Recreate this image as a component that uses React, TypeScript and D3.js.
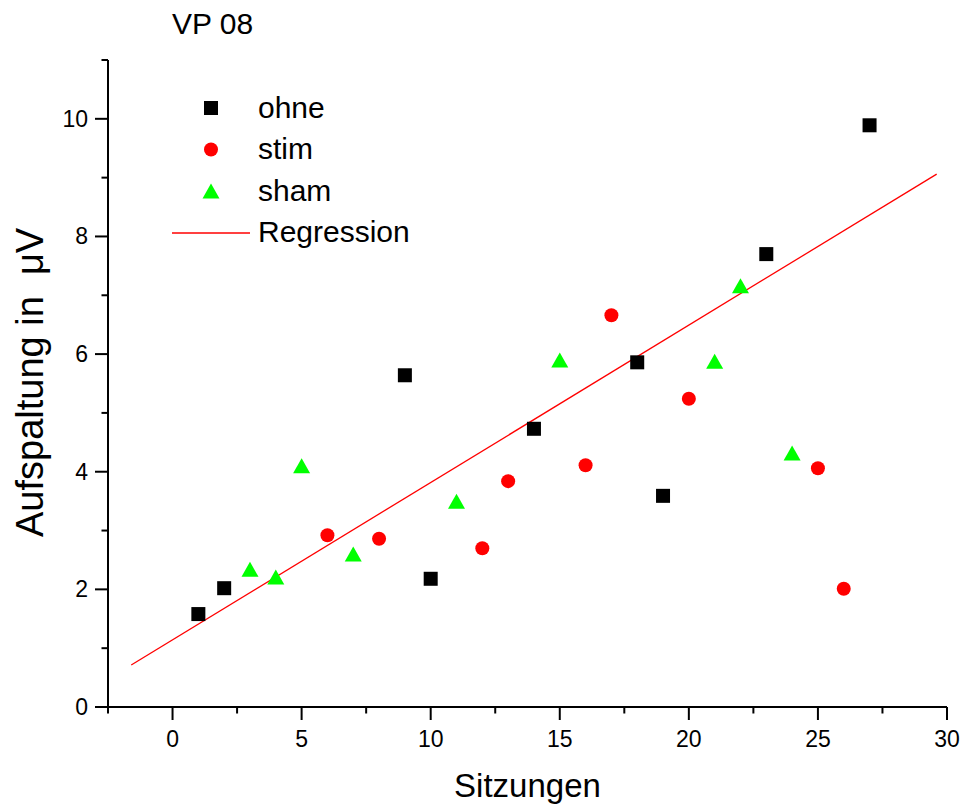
import React from "react";
import * as d3 from "d3";

const title = "VP 08";
const xLabel = "Sitzungen";
const yLabel = "Aufspaltung in\u00a0\u00a0μV";

const ohneX = [1, 2, 9, 10, 14, 18, 19, 23, 27];
const ohneY = [1.58, 2.02, 5.64, 2.18, 4.73, 5.86, 3.59, 7.7, 9.89];

const stimX = [6, 8, 12, 13, 16, 17, 20, 25, 26];
const stimY = [2.92, 2.86, 2.7, 3.84, 4.11, 6.66, 5.24, 4.06, 2.01];

const shamX = [3, 4, 5, 7, 11, 15, 21, 22, 24];
const shamY = [2.34, 2.21, 4.1, 2.6, 3.5, 5.9, 5.88, 7.16, 4.32];

const regIntercept = 1.142;
const regSlope = 0.2675;
const regRange = [-1.6, 29.6];

const xMajorTicks = [0, 5, 10, 15, 20, 25, 30];
const xMinorTicks = [-2.5, 2.5, 7.5, 12.5, 17.5, 22.5, 27.5];
const yMajorTicks = [0, 2, 4, 6, 8, 10];
const yMinorTicks = [1, 3, 5, 7, 9, 11];

const legendItems = ["ohne", "stim", "sham", "Regression"];

const FONT = "'Liberation Sans', Arial, Helvetica, sans-serif";

export default function App() {
  const W = 964;
  const H = 810;
  const x = d3.scaleLinear().domain([-2.5, 30]).range([108, 947]);
  const y = d3.scaleLinear().domain([0, 11]).range([707, 60]);

  const sq = 14;
  const triW = 17;
  const triH = 15;
  const triPath = (cx: number, cy: number) =>
    `M${cx},${cy - triH / 2}L${cx + triW / 2},${cy + triH / 2}L${cx - triW / 2},${cy + triH / 2}Z`;

  const line = d3
    .line<number>()
    .x((d) => x(d))
    .y((d) => y(regIntercept + regSlope * d));

  const legendX = 211;
  const legendY0 = 108;
  const legendDy = 41.5;

  return (
    <svg
      width={W}
      height={H}
      style={{ position: "absolute", left: 0, top: 0, background: "#fff" }}
      fontFamily={FONT}
    >
      <rect x={0} y={0} width={W} height={H} fill="#fff" />
      {/* title */}
      <text x={172} y={34} fontSize={30} fill="#000">
        {title}
      </text>

      {/* regression line */}
      <path d={line(regRange) || ""} stroke="#ff0000" strokeWidth={1.3} fill="none" />

      {/* axes */}
      <g stroke="#000" strokeWidth={2} fill="none">
        <line x1={x(-2.5)} x2={x(-2.5)} y1={y(11)} y2={y(0)} />
        <line x1={x(-2.5)} x2={x(30)} y1={y(0)} y2={y(0)} />
        {yMajorTicks.map((t) => (
          <line key={"ym" + t} x1={x(-2.5) - 13} x2={x(-2.5)} y1={y(t)} y2={y(t)} />
        ))}
        {yMinorTicks.map((t) => (
          <line key={"yn" + t} x1={x(-2.5) - 6.5} x2={x(-2.5)} y1={y(t)} y2={y(t)} />
        ))}
        {xMajorTicks.map((t) => (
          <line key={"xm" + t} x1={x(t)} x2={x(t)} y1={y(0)} y2={y(0) + 13} />
        ))}
        {xMinorTicks.map((t) => (
          <line key={"xn" + t} x1={x(t)} x2={x(t)} y1={y(0)} y2={y(0) + 6.5} />
        ))}
      </g>

      {/* tick labels */}
      <g fontSize={23} fill="#000">
        {yMajorTicks.map((t) => (
          <text key={"yl" + t} x={88} y={y(t)} textAnchor="end" dominantBaseline="central">
            {t}
          </text>
        ))}
        {xMajorTicks.map((t) => (
          <text key={"xl" + t} x={x(t)} y={747} textAnchor="middle">
            {t}
          </text>
        ))}
      </g>

      {/* axis labels */}
      <text x={(x(-2.5) + x(30)) / 2} y={797} fontSize={33} textAnchor="middle" fill="#000">
        {xLabel}
      </text>
      <text transform={`translate(43,537) rotate(-90)`} fontSize={38} fill="#000">
        {yLabel}
      </text>

      {/* points */}
      {ohneX.map((v, i) => (
        <rect
          key={"o" + i}
          x={x(v) - sq / 2}
          y={y(ohneY[i]) - sq / 2}
          width={sq}
          height={sq}
          fill="#000"
        />
      ))}
      {stimX.map((v, i) => (
        <circle key={"s" + i} cx={x(v)} cy={y(stimY[i])} r={7} fill="#ff0000" />
      ))}
      {shamX.map((v, i) => (
        <path key={"h" + i} d={triPath(x(v), y(shamY[i]))} fill="#00ff00" />
      ))}

      {/* legend */}
      <g fontSize={30} fill="#000">
        <rect x={legendX - sq / 2} y={legendY0 - sq / 2} width={sq} height={sq} fill="#000" />
        <circle cx={legendX} cy={legendY0 + legendDy} r={7} fill="#ff0000" />
        <path d={triPath(legendX, legendY0 + 2 * legendDy)} fill="#00ff00" />
        <line
          x1={172}
          x2={250}
          y1={legendY0 + 3 * legendDy + 0.5}
          y2={legendY0 + 3 * legendDy + 0.5}
          stroke="#ff0000"
          strokeWidth={1.3}
        />
        {legendItems.map((label, i) => (
          <text key={label} x={258} y={legendY0 + i * legendDy + 9.5}>
            {label}
          </text>
        ))}
      </g>
    </svg>
  );
}
